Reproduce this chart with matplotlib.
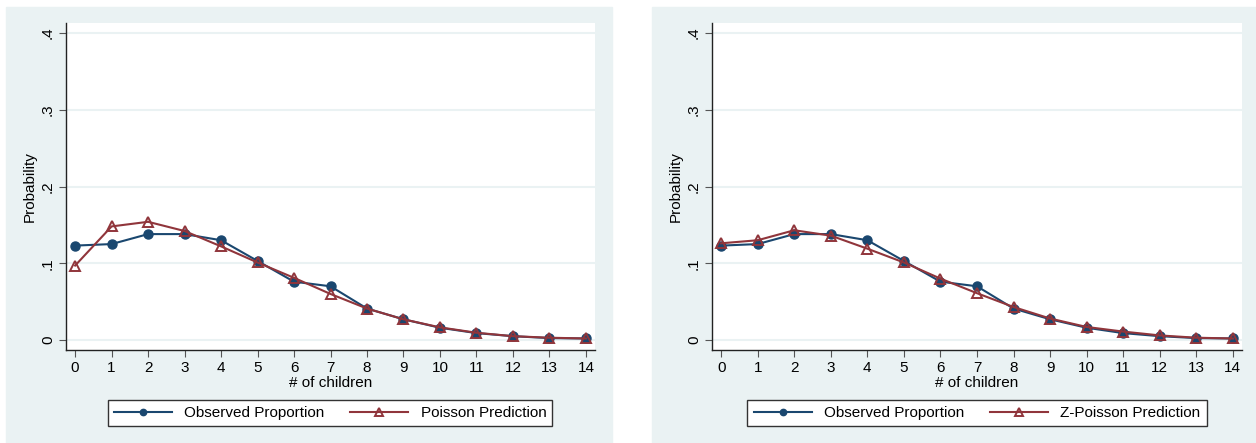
import matplotlib
matplotlib.use('Agg')
import matplotlib.pyplot as plt
from matplotlib.patches import Rectangle

plt.rcParams['font.family'] = ['Liberation Sans', 'DejaVu Sans']

# number of children
children = list(range(15))

# observed proportions
observed = [0.123, 0.125, 0.138, 0.138, 0.130, 0.103, 0.076, 0.070,
            0.041, 0.027, 0.016, 0.009, 0.005, 0.0025, 0.002]

# poisson model prediction
poisson = [0.097, 0.148, 0.154, 0.142, 0.122, 0.101, 0.081, 0.060,
           0.041, 0.027, 0.0165, 0.0095, 0.005, 0.003, 0.002]

# zero-inflated poisson prediction
zpoisson = [0.126, 0.130, 0.143, 0.136, 0.119, 0.101, 0.080, 0.061,
            0.043, 0.028, 0.017, 0.011, 0.006, 0.003, 0.002]

y_ticks = [0, 0.1, 0.2, 0.3, 0.4]
y_labels = ['0', '.1', '.2', '.3', '.4']

blue = '#1a476f'
red = '#90353b'
bg = '#eaf2f3'

fig = plt.figure(figsize=(12.56, 4.43), dpi=100)
W, H = 1256, 443

# graph region backgrounds (Stata style)
for x0, x1 in [(6, 612), (652, 1256)]:
    fig.patches.append(Rectangle((x0 / W, 0), (x1 - x0) / W, 1 - 7 / H,
                                 transform=fig.transFigure, color=bg, zorder=-5))

panels = [(66, 595, poisson, 'Poisson Prediction', (108, 552)),
          (712, 1242, zpoisson, 'Z-Poisson Prediction', (747, 1207))]

for left, right, pred, pred_name, (lx0, lx1) in panels:
    ax = fig.add_axes([left / W, 1 - 350 / H, (right - left) / W, (350 - 23) / H])
    ax.set_facecolor('white')
    ax.plot(children, observed, color=blue, lw=1.5, marker='o', ms=6.5,
            label='Observed Proportion', zorder=3)
    ax.plot(children, pred, color=red, lw=1.5, marker='^', ms=7.5,
            mfc='none', mew=1.4, label=pred_name, zorder=4)

    ax.set_xlim(-0.25, 14.25)
    ax.set_ylim(-0.013, 0.413)
    ax.set_xticks(children)
    ax.set_yticks(y_ticks)
    ax.set_yticklabels(y_labels, rotation=90, va='center')
    ax.grid(axis='y', color=bg, lw=1.5)
    ax.set_axisbelow(True)
    for s in ['top', 'right']:
        ax.spines[s].set_visible(False)
    for s in ['left', 'bottom']:
        ax.spines[s].set_color('#222222')
        ax.spines[s].set_linewidth(1.0)
    ax.tick_params(axis='both', direction='out', length=5, color='#555555',
                   labelsize=11, pad=3)
    ax.set_xlabel('# of children', fontsize=11, labelpad=0.5)
    ax.set_ylabel('Probability', fontsize=11, labelpad=3)

    h, l = ax.get_legend_handles_labels()
    leg = fig.legend(h, l, loc='center', ncol=2, fontsize=11,
                     bbox_to_anchor=((lx0 + lx1) / 2 / W, 1 - 413 / H),
                     frameon=True, fancybox=False, edgecolor='#333333',
                     framealpha=1, facecolor='white', markerscale=0.7,
                     handlelength=3.8, handletextpad=0.8, columnspacing=1.7,
                     borderpad=0.4, numpoints=1)
    leg.get_frame().set_linewidth(1.0)

fig.savefig('out.png', dpi=100)
